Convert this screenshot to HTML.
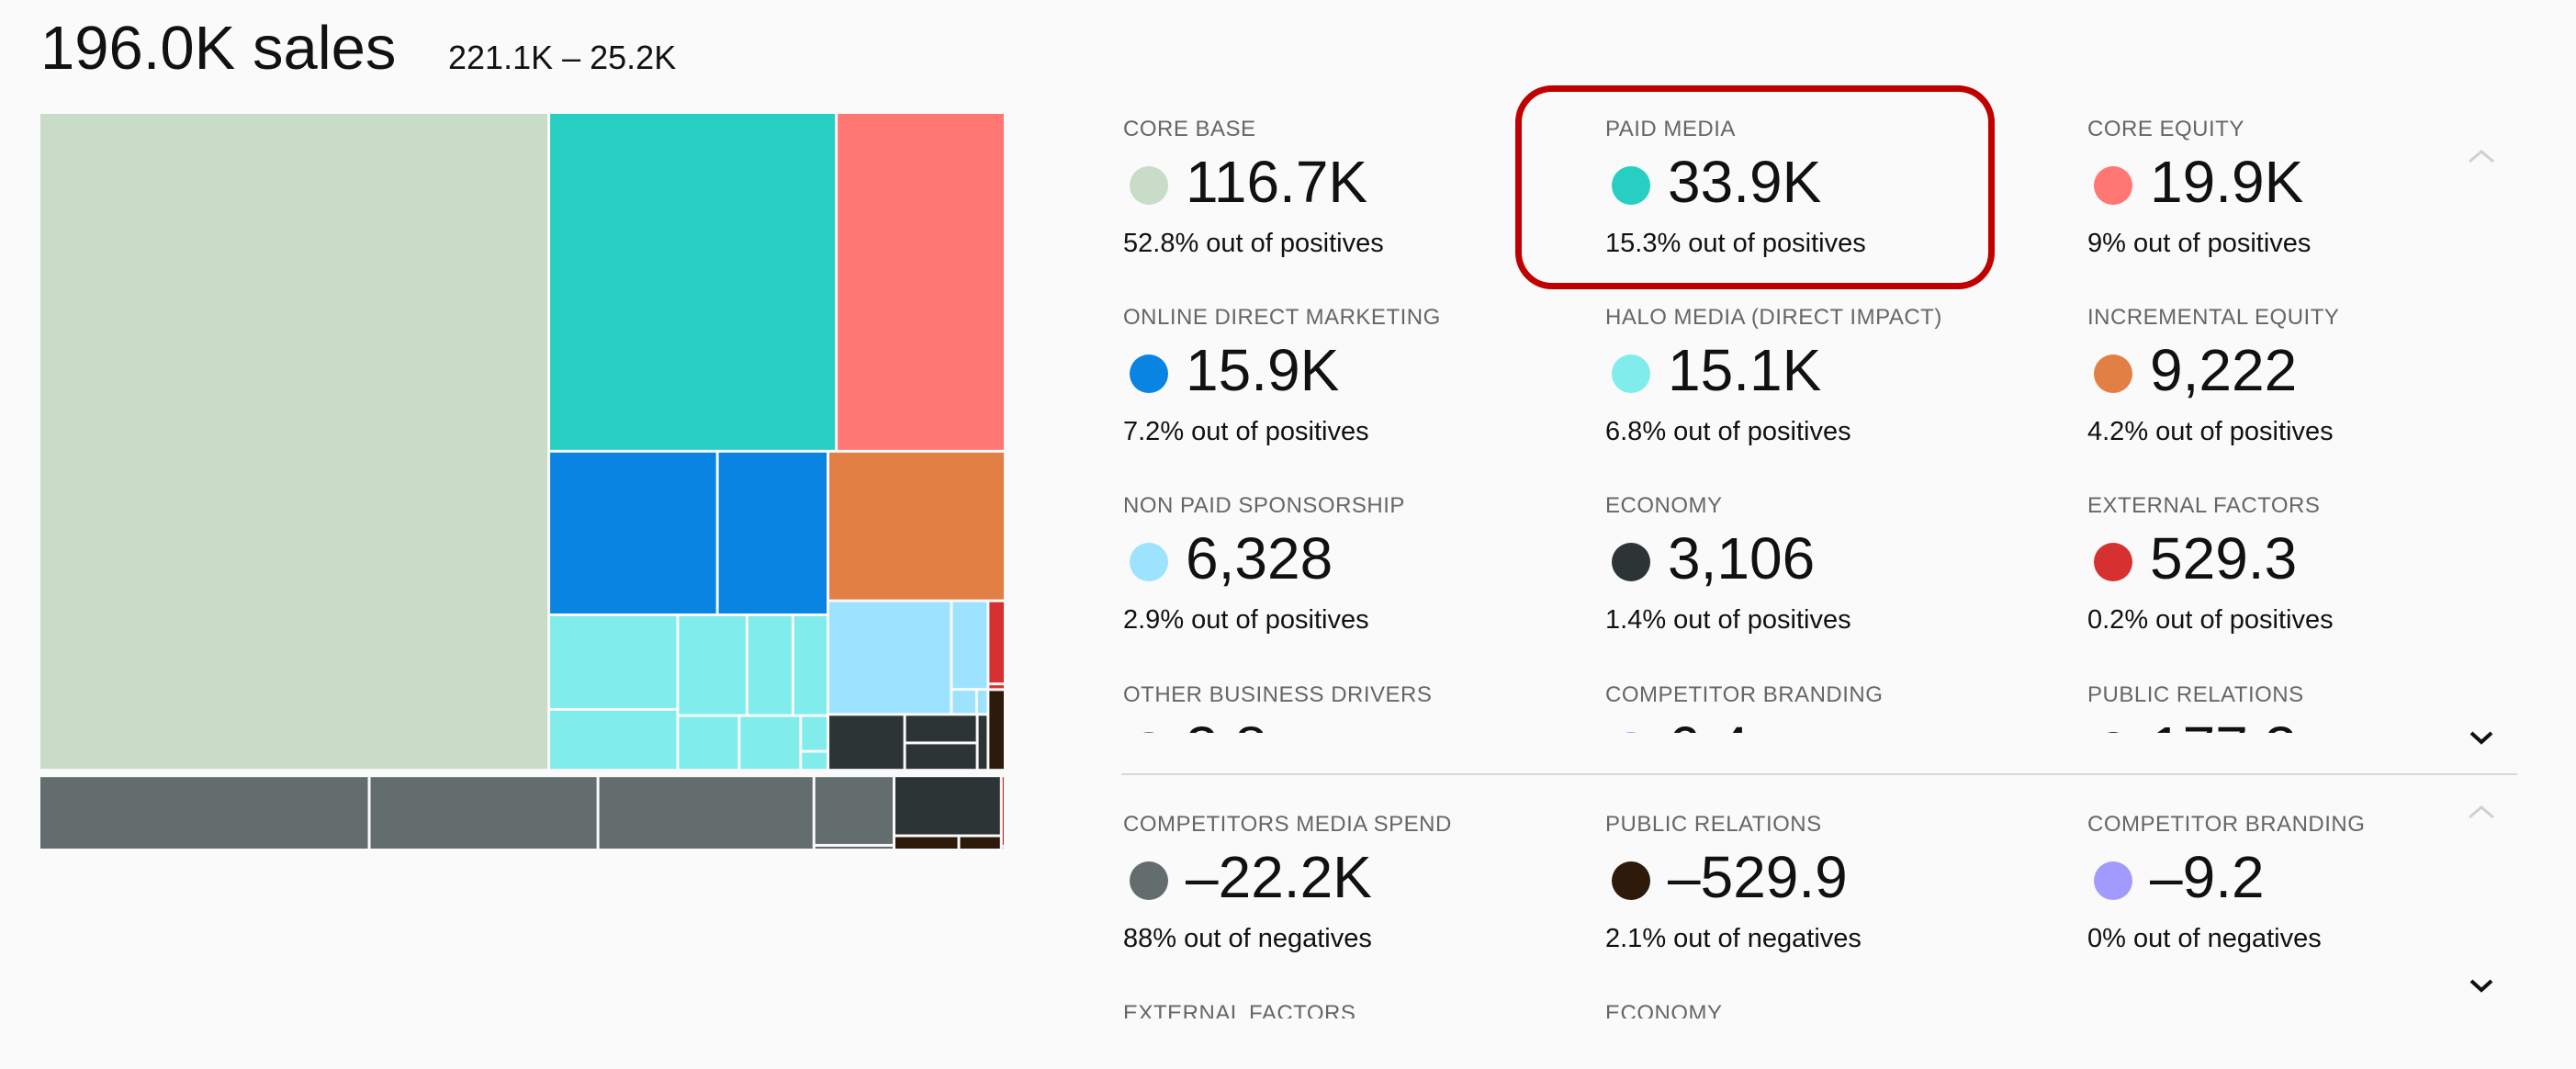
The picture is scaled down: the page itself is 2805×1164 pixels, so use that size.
<!DOCTYPE html>
<html><head><meta charset="utf-8">
<style>
html,body{margin:0;padding:0;}
body{width:2805px;height:1164px;background:#fafafa;position:relative;overflow:hidden;font-family:"Liberation Sans",sans-serif;}
.abs{position:absolute;white-space:nowrap;}
.title{left:44px;top:19px;font-size:67px;line-height:67px;color:#111;}
.sub{left:488px;top:45px;font-size:36px;line-height:36px;color:#111;}
.clip{position:absolute;left:1200px;width:1560px;overflow:hidden;}
.lbl{font-size:24px;line-height:24px;color:#666;letter-spacing:0.5px;}
.val{font-size:64px;line-height:64px;color:#111;font-weight:300;}
.pct{font-size:29px;line-height:29px;color:#111;}
.dot{width:42px;height:42px;border-radius:50%;}
</style></head>
<body>
<div class="abs title">196.0K sales</div>
<div class="abs sub">221.1K – 25.2K</div>
<svg id="tm" class="abs" style="left:0;top:0" width="1120" height="950"></svg>

<div class="clip" id="upper" style="top:100px;height:698px"></div>
<div class="abs" style="left:1221px;top:842px;width:1520px;height:2px;background:#d8d8d8"></div>
<div class="clip" id="lower" style="top:850px;height:259px"></div>

<div class="abs" style="left:1650px;top:93px;width:508px;height:208px;border:7px solid #c00000;border-radius:40px"></div>

<svg class="abs" style="left:2686px;top:160px" width="32" height="20"><polyline points="3,16 16,5 29,16" fill="none" stroke="#d0d0d0" stroke-width="3"/></svg>
<svg class="abs" style="left:2688px;top:794px" width="28" height="18"><polyline points="3,4 14,14 25,4" fill="none" stroke="#111" stroke-width="4"/></svg>
<svg class="abs" style="left:2686px;top:874px" width="32" height="20"><polyline points="3,16 16,5 29,16" fill="none" stroke="#d0d0d0" stroke-width="3"/></svg>
<svg class="abs" style="left:2688px;top:1064px" width="28" height="18"><polyline points="3,4 14,14 25,4" fill="none" stroke="#111" stroke-width="4"/></svg>

<script>
// ---- treemap data ----
const coreBaseVals = [116.7];
const paidMediaVals = [33.9];
const coreEquityVals = [19.9];
const onlineVals = [9.6, 6.3];
const haloColA = [4.24, 2.73];
const haloTopRow = [2.43, 1.61, 1.23];
const haloBotRow = [1.17, 1.17];
const haloTiny = [0.34, 0.18];
const orangeVals = [9.222];
const sponsorBig = [4.88];
const sponsorCol = [1.13];
const sponsorTiny = [0.22, 0.10];
const econA = [1.49];
const econCol = [0.72, 0.69];
const econB = [0.21];
const extPos = [0.495, 0.034];
const prPos = [0.48];
const grayNeg = [8.53, 5.91, 5.58];
const grayNegCol = [1.94, 0.13];
const econNeg = [2.24];
const prNeg = [0.32, 0.21];
const extNeg = [0.095];
const purpleNeg = [0.005];

const C = {core:'#c9dcc8',paid:'#26cfc1',eq:'#ff7672',blue:'#0984e3',halo:'#80ecec',orange:'#e27f45',spon:'#9de3fd',ext:'#d63031',pr:'#2d1a0a',econ:'#2d3436',gray:'#636d6e',purple:'#a29bfe'};
function L(arr,c,n){return arr.map(v=>({v:v,c:c,n:n}));}
function H(ch,gap){return {d:'h',ch:ch,gap:gap||0};}
function V(ch,gap){return {d:'v',ch:ch,gap:gap||0};}
function sum(n){return n.ch? n.ch.reduce((a,b)=>a+sum(b),0) : n.v;}

const tree = V([
  H([ ...L(coreBaseVals,C.core,'core-base'),
      V([ H([...L(paidMediaVals,C.paid,'paid-media'), ...L(coreEquityVals,C.eq,'core-equity')]),
          H([ V([ H(L(onlineVals,C.blue,'online-direct-marketing')),
                  H([ V(L(haloColA,C.halo,'halo-media')),
                      V([ H(L(haloTopRow,C.halo,'halo-media')),
                          H([...L(haloBotRow,C.halo,'halo-media'), V(L(haloTiny,C.halo,'halo-media'))]) ]) ]) ]),
              V([ ...L(orangeVals,C.orange,'incremental-equity'),
                  H([ V([ H([...L(sponsorBig,C.spon,'non-paid-sponsorship'), V([...L(sponsorCol,C.spon,'non-paid-sponsorship'), H(L(sponsorTiny,C.spon,'non-paid-sponsorship'))])]),
                          H([...L(econA,C.econ,'economy'), V(L(econCol,C.econ,'economy')), ...L(econB,C.econ,'economy')]) ]),
                      V([ V(L(extPos,C.ext,'external-factors')), ...L(prPos,C.pr,'public-relations') ]) ]) ]) ]) ]) ]),
  H([ H([...L(grayNeg,C.gray,'competitors-media-spend'), V(L(grayNegCol,C.gray,'competitors-media-spend'))]),
      V([ ...L(econNeg,C.econ,'economy-negative'), H(L(prNeg,C.pr,'public-relations-negative')) ]),
      V([ ...L(extNeg,C.ext,'external-factors-negative'), ...L(purpleNeg,C.purple,'competitor-branding-negative') ]) ])
], 6);

const svg = document.getElementById('tm');
const NS='http://www.w3.org/2000/svg';
function layout(n,x,y,w,h){
  if(!n.ch){
    const r=document.createElementNS(NS,'rect');
    const i=1.5;
    r.setAttribute('x',x+i); r.setAttribute('y',y+i);
    r.setAttribute('width',Math.max(0.5,w-2*i)); r.setAttribute('height',Math.max(0.5,h-2*i));
    r.setAttribute('fill',n.c);
    
    
    svg.appendChild(r); return;
  }
  const tot=sum(n), g=n.gap*(n.ch.length-1);
  let pos=0;
  n.ch.forEach(c=>{
    const f=sum(c)/tot;
    if(n.d==='h'){const cw=(w-g)*f; layout(c,x+pos,y,cw,h); pos+=cw+n.gap;}
    else{const ch=(h-g)*f; layout(c,x,y+pos,w,ch); pos+=ch+n.gap;}
  });
}
layout(tree,42.5,122.5,1052,803);

// ---- legend cards ----
const upperNames=['CORE BASE','PAID MEDIA','CORE EQUITY','ONLINE DIRECT MARKETING','HALO MEDIA (DIRECT IMPACT)','INCREMENTAL EQUITY','NON PAID SPONSORSHIP','ECONOMY','EXTERNAL FACTORS','OTHER BUSINESS DRIVERS','COMPETITOR BRANDING','PUBLIC RELATIONS'];
const upperVals=['116.7K','33.9K','19.9K','15.9K','15.1K','9,222','6,328','3,106','529.3','3,8','6.4','177.3'];
const upperPct=['52.8%','15.3%','9%','7.2%','6.8%','4.2%','2.9%','1.4%','0.2%','0.1%','0%','0.1%'];
const upperCol=[C.core,C.paid,C.eq,C.blue,C.halo,C.orange,C.spon,C.econ,C.ext,'#636e72',C.purple,C.pr];
const lowerNames=['COMPETITORS MEDIA SPEND','PUBLIC RELATIONS','COMPETITOR BRANDING','EXTERNAL FACTORS','ECONOMY'];
const lowerVals=['–22.2K','–529.9','–9.2','–95.1','–2.2K'];
const lowerPct=['88%','2.1%','0%','0.4%','8.9%'];
const lowerCol=[C.gray,C.pr,C.purple,C.ext,C.econ];

function cards(containerId,names,vals,pcts,cols,word,top0,baseTop){
  const box=document.getElementById(containerId);
  const colX=[23,548,1073];
  names.forEach((nm,i)=>{
    const cx=colX[i%3], ty=baseTop-top0+205.3*Math.floor(i/3);
    const slug=nm.toLowerCase().replace(/[^a-z]+/g,'-').replace(/-$/,'');
    const card=document.createElement('div');
    card.className='abs'; card.style.left=cx+'px'; card.style.top=ty+'px';
    
    
    const l=document.createElement('div'); l.className='abs lbl'; l.style.left='0px'; l.style.top='0px'; l.textContent=nm;
    
    
    const d=document.createElement('div'); d.className='abs dot'; d.style.left='7px'; d.style.top='52px'; d.style.background=cols[i];
    
    
    const v=document.createElement('div'); v.className='abs val'; v.style.left='68px'; v.style.top='37px'; v.textContent=vals[i];
    
    
    const p=document.createElement('div'); p.className='abs pct'; p.style.left='0px'; p.style.top='122px'; p.textContent=pcts[i]+' out of '+word;
    
    
    card.appendChild(l); card.appendChild(d); card.appendChild(v); card.appendChild(p);
    box.appendChild(card);
  });
}
cards('upper',upperNames,upperVals,upperPct,upperCol,'positives',100,128.7);
cards('lower',lowerNames,lowerVals,lowerPct,lowerCol,'negatives',850,886.3);
</script>
</body></html>
